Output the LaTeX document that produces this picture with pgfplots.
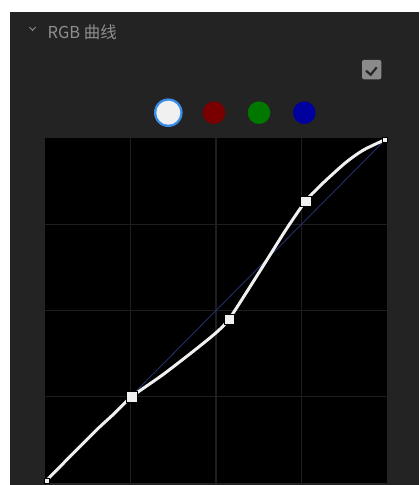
\documentclass[border=0pt]{standalone}
\usepackage{fontspec}
\newfontfamily\cjk{Noto Sans CJK SC}
\usepackage{pgfplots}
\pgfplotsset{compat=1.18}
\definecolor{panel}{HTML}{232323}
\definecolor{hdr}{HTML}{8E8E8E}
\definecolor{chk}{HTML}{8A8A8A}
\definecolor{chkdark}{HTML}{262626}
\definecolor{ring}{HTML}{3A8EEA}
\definecolor{wfill}{HTML}{F0F0F0}
\definecolor{cred}{HTML}{780000}
\definecolor{cgreen}{HTML}{007800}
\definecolor{cblue}{HTML}{00009E}
\definecolor{gridc}{HTML}{1E1E1E}
\definecolor{diag}{HTML}{22306A}
\definecolor{curvec}{HTML}{F0F0F0}
\begin{document}
\begin{tikzpicture}[x=1bp,y=1bp]
\fill[white] (0,0) rectangle (419,485);
\fill[panel] (10,0) rectangle (419,473);
% header
\draw[hdr, line width=0.9bp] (29.5,457.8) -- (32.5,454.6) -- (35.5,457.8);
\node[anchor=base west, inner sep=0, text=hdr, font=\cjk\fontsize{16.5}{16.5}\selectfont] at (47.5,446.7) {RGB 曲线};
% checkbox
\fill[chk, rounded corners=2bp] (362,405.7) rectangle (381.3,425);
\draw[chkdark, line width=2.2bp] (366,414.3) -- (370.7,410.3) -- (376.7,417.7);
% channel circles
\fill[ring] (168.3,372.3) circle (14.3bp);
\fill[wfill] (168.3,372.3) circle (12bp);
\fill[cred] (214,372.3) circle (11.3bp);
\fill[cgreen] (259,372.3) circle (11.3bp);
\fill[cblue] (304.3,372.3) circle (11.3bp);
\begin{axis}[at={(45bp,2bp)}, anchor=south west, scale only axis,
  width=342bp, height=345bp,
  xmin=0, xmax=1, ymin=0, ymax=1,
  axis background/.style={fill=black},
  axis line style={draw=none},
  xtick={0.25,0.5,0.75}, ytick={0.25,0.5,0.75},
  xticklabels={}, yticklabels={},
  major tick length=0pt,
  grid=major, grid style={gridc, line width=1.3bp},
  clip=false]
\addplot[diag, line width=0.9bp] coordinates {(0,0) (1,1)};
\addplot[curvec, line width=3bp, smooth, tension=0.5] coordinates {
(0.005,0.008)
(0.0535,0.057)
(0.151,0.154)
(0.2,0.199)
(0.2535,0.250)
(0.346,0.315)
(0.444,0.390)
(0.504,0.439)
(0.538,0.475)
(0.590,0.554)
(0.658,0.661)
(0.707,0.738)
(0.762,0.817)
(0.798,0.855)
(0.833,0.888)
(0.882,0.931)
(0.931,0.965)
(0.992,0.994)
};
\addplot[only marks, mark=square*, mark size=5.2bp, mark options={fill=wfill, draw=none}] coordinates {(0.2535,0.25) (0.538,0.475) (0.762,0.817)};
\addplot[only marks, mark=square*, mark size=2.5bp, mark options={fill=wfill, draw=none}] coordinates {(0.005,0.008) (0.992,0.994)};
\end{axis}
\pgfresetboundingbox
\path[use as bounding box] (0,0) rectangle (419,485);
\end{tikzpicture}
\end{document}
